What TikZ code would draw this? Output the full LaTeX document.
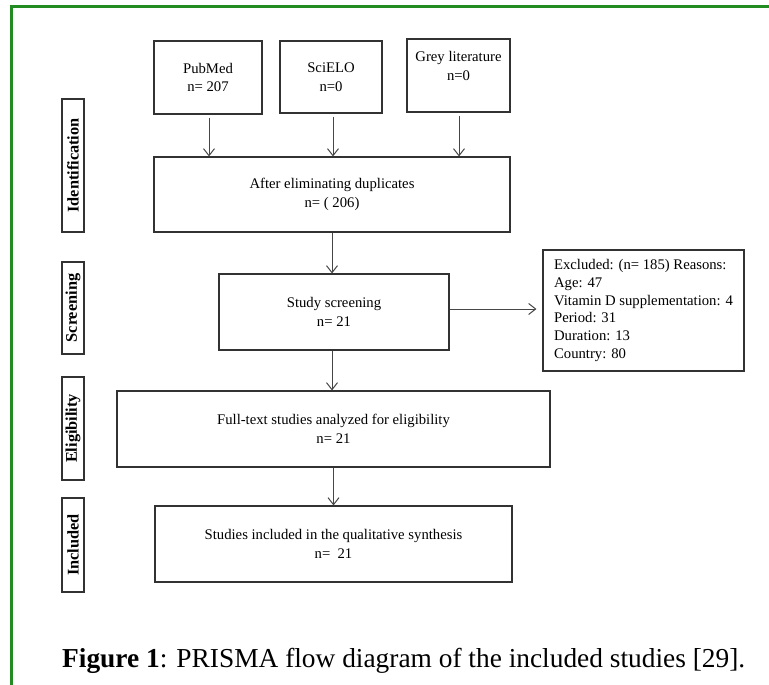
\documentclass[tikz,border=0pt]{standalone}
\usepackage{fontspec}
\setmainfont{Liberation Serif}
\usetikzlibrary{arrows.meta}
\definecolor{framegreen}{RGB}{34,140,34}
\definecolor{boxline}{RGB}{50,50,50}
\definecolor{arrowgray}{RGB}{70,70,70}
\begin{document}
\begin{tikzpicture}[x=1pt,y=-1pt,
  box/.style={draw=boxline, line width=1.1pt, align=center, inner sep=0pt,
    font=\fontsize{14.7}{18.7}\selectfont},
  lab/.style={draw=boxline, line width=1.1pt, minimum height=22pt, inner sep=0pt,
    rotate=90, font=\fontsize{16.3}{18}\selectfont\bfseries},
  conn/.style={draw=arrowgray, line width=1pt, -{Straight Barb[length=7pt,width=11pt]}},
]
\useasboundingbox (0,0) rectangle (769,685);
% green frame
\draw[framegreen, line width=2.6pt] (11.3,686) -- (11.3,6.3) -- (770,6.3);

% source boxes
\node[box, minimum width=108pt, minimum height=73pt] (pub) at (208,77.5) {PubMed\\n= 207};
\node[box, minimum width=102pt, minimum height=72pt] (sci) at (331,77) {SciELO\\n=0};
\node[box, minimum width=103pt, minimum height=73pt] (grey) at (458.5,75.5) {Grey literature\\n=0\\\mbox{}};

\node[box, minimum width=356pt, minimum height=75pt] (after) at (332,194.5) {After eliminating duplicates\\n= ( 206)};
\node[box, minimum width=230pt, minimum height=76pt] (screen) at (334,312) {Study screening\\n= 21};
\node[box, minimum width=201pt, minimum height=121pt, align=left,
  font=\fontsize{14.7}{17.9}\selectfont] (excl) at (643.5,310.5)
  {Excluded: (n= 185) Reasons:\\Age: 47\\Vitamin D supplementation: 4\\Period: 31\\Duration: 13\\Country: 80};
\node[box, minimum width=433pt, minimum height=76pt] (full) at (333.5,429) {Full-text studies analyzed for eligibility\\n= 21};
\node[box, minimum width=357pt, minimum height=76pt] (incl) at (333.5,544) {Studies included in the qualitative synthesis\\n=\ \ 21};

% stage labels
\node[lab, minimum width=133pt] (lid) at (73,165.5) {Identification};
\node[lab, minimum width=92pt] (lsc) at (73,308) {Screening};
\node[lab, minimum width=103pt] (lel) at (73,428.5) {Eligibility};
\node[lab, minimum width=94pt] (lin) at (73,545) {Included};

% connectors
\coordinate (p1) at ([xshift=1pt,yshift=-3pt]pub.south);
\draw[conn] (p1) -- (p1 |- after.north);
\coordinate (s1) at ([xshift=2pt,yshift=-3pt]sci.south);
\draw[conn] (s1) -- (s1 |- after.north);
\coordinate (g1) at ([xshift=0.5pt,yshift=-3pt]grey.south);
\draw[conn] (g1) -- (g1 |- after.north);
\draw[conn] (after.south) -- (after.south |- screen.north);
\draw[conn, shorten >=6pt] ([yshift=3pt]screen.east) -- ([yshift=3pt]screen.east -| excl.west);
\coordinate (sc1) at ([xshift=-2pt]screen.south);
\draw[conn] (sc1) -- (sc1 |- full.north);
\draw[conn] (full.south) -- (full.south |- incl.north);

% caption
\node[anchor=base west, inner sep=0pt] (cap) at (62,667)
  {\resizebox{683pt}{!}{\fontsize{24}{24}\selectfont\textbf{Figure 1}: PRISMA flow diagram of the included studies [29].}};
\end{tikzpicture}
\end{document}
